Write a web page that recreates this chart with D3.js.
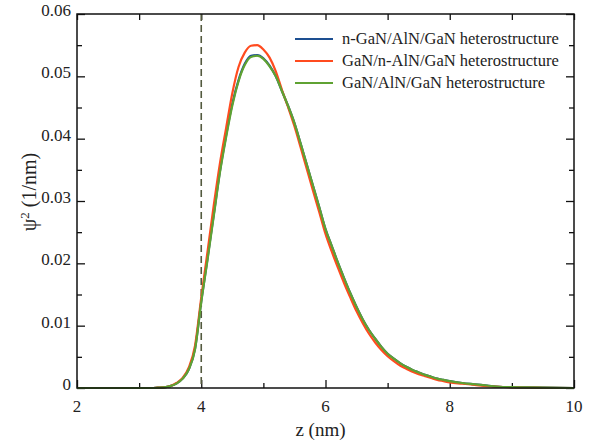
<!DOCTYPE html>
<html>
<head>
<meta charset="utf-8">
<script src="https://cdn.jsdelivr.net/npm/d3@7"></script>
<style>
  html, body { margin: 0; padding: 0; background: #fff; }
  svg { display: block; }
</style>
</head>
<body>
<svg id="chart" width="595" height="441"></svg>
<script>
// Position z (nm)
const zValues = [2.0, 2.5, 3.0, 3.2, 3.3, 3.4, 3.5, 3.6, 3.7, 3.8, 3.9, 4.0, 4.1, 4.2, 4.3, 4.4,
  4.5, 4.6, 4.7, 4.8, 4.9, 5.0, 5.1, 5.2, 5.3, 5.4, 5.5, 5.6, 5.7, 5.8, 5.9, 6.0,
  6.1, 6.2, 6.3, 6.4, 6.5, 6.6, 6.7, 6.8, 6.9, 7.0, 7.1, 7.2, 7.3, 7.4, 7.5, 7.6,
  7.7, 7.8, 7.9, 8.0, 8.2, 8.4, 8.6, 8.8, 9.0, 9.2, 9.5, 10.0];

// |psi|^2 (1/nm) for each structure
const psiNGaN = [0, 0, 0, 0, 0.00005, 0.0001, 0.0003, 0.0007, 0.0015, 0.0030, 0.0063, 0.0139, 0.0207, 0.0277, 0.0347, 0.0405,
  0.0456, 0.0494, 0.0520, 0.0533, 0.0534, 0.0529, 0.0517, 0.0500, 0.0476, 0.0452, 0.0425, 0.0392, 0.0358, 0.0324, 0.0290, 0.0255,
  0.0228, 0.0201, 0.0176, 0.0152, 0.0130, 0.0110, 0.0093, 0.0079, 0.0066, 0.0055, 0.0047, 0.0040, 0.0034, 0.0029, 0.0025, 0.0021,
  0.0018, 0.0015, 0.0013, 0.0011, 0.0008, 0.0006, 0.0004, 0.0002, 0.00015, 0.0001, 0.00005, 0];

const psiNAlN = [0, 0, 0, 0, 0.00005, 0.0001, 0.0003, 0.0008, 0.0016, 0.0033, 0.0068, 0.0145, 0.0218, 0.0292, 0.0360, 0.0417,
  0.0473, 0.0515, 0.0538, 0.0549, 0.0550, 0.0543, 0.0530, 0.0508, 0.0478, 0.0450, 0.0420, 0.0386, 0.0351, 0.0316, 0.0282, 0.0247,
  0.0219, 0.0193, 0.0168, 0.0145, 0.0123, 0.0104, 0.0087, 0.0073, 0.0061, 0.0051, 0.0043, 0.0036, 0.0031, 0.0026, 0.0022, 0.0019,
  0.0016, 0.0013, 0.0011, 0.0009, 0.0007, 0.0005, 0.0003, 0.0002, 0.0001, 0.00008, 0.00003, 0];

const psiUndoped = [0, 0, 0, 0, 0.00005, 0.0001, 0.0003, 0.0007, 0.0015, 0.0030, 0.0062, 0.0138, 0.0205, 0.0275, 0.0345, 0.0402,
  0.0453, 0.0492, 0.0518, 0.0531, 0.0533, 0.0528, 0.0516, 0.0500, 0.0476, 0.0452, 0.0425, 0.0392, 0.0358, 0.0324, 0.0290, 0.0255,
  0.0228, 0.0201, 0.0176, 0.0152, 0.0130, 0.0110, 0.0093, 0.0079, 0.0066, 0.0055, 0.0047, 0.0040, 0.0034, 0.0029, 0.0025, 0.0021,
  0.0018, 0.0015, 0.0013, 0.0011, 0.0008, 0.0006, 0.0004, 0.0002, 0.00015, 0.0001, 0.00005, 0];

const seriesNames = ["n-GaN/AlN/GaN heterostructure", "GaN/n-AlN/GaN heterostructure", "GaN/AlN/GaN heterostructure"];
const seriesColors = ["#1d4f91", "#ff4b1f", "#5fa232"];

const xTicks = [2, 4, 6, 8, 10];
const xMinorTicks = [3, 5, 7, 9];
const yTicks = [0, 0.01, 0.02, 0.03, 0.04, 0.05, 0.06];
const yTickLabels = ["0", "0.01", "0.02", "0.03", "0.04", "0.05", "0.06"];
const yMinorTicks = [0.005, 0.015, 0.025, 0.035, 0.045, 0.055];
const interfaceZ = 4;

const FONT = "'Liberation Serif', 'DejaVu Serif', serif";
const INK = "#222";

const svg = d3.select("#chart");
const plotL = 77, plotR = 574, plotT = 14, plotB = 388;

const x = d3.scaleLinear().domain([2, 10]).range([plotL, plotR]);
const y = d3.scaleLinear().domain([0, 0.06]).range([plotB, plotT]);

const majorLen = 8, minorLen = 5;

// Tick marks on all four sides, pointing inward
function tickAxis(gen, transform, ticks, len) {
  svg.append("g")
    .attr("transform", transform)
    .call(gen.tickValues(ticks).tickSize(len).tickFormat(""))
    .call(g => g.select(".domain").remove())
    .call(g => g.selectAll("line").attr("stroke", "#111").attr("stroke-width", 1.3));
}
tickAxis(d3.axisTop(x), `translate(0,${plotB})`, xTicks, majorLen);
tickAxis(d3.axisTop(x), `translate(0,${plotB})`, xMinorTicks, minorLen);
tickAxis(d3.axisBottom(x), `translate(0,${plotT})`, xTicks.concat(xMinorTicks), 6);
tickAxis(d3.axisRight(y), `translate(${plotL},0)`, yTicks, majorLen);
tickAxis(d3.axisRight(y), `translate(${plotL},0)`, yMinorTicks, minorLen);
tickAxis(d3.axisLeft(y), `translate(${plotR},0)`, yTicks, majorLen);
tickAxis(d3.axisLeft(y), `translate(${plotR},0)`, yMinorTicks, minorLen);

// Tick labels
svg.append("g").selectAll("text").data(xTicks).join("text")
  .attr("x", d => x(d)).attr("y", plotB + 24)
  .attr("text-anchor", "middle")
  .attr("font-family", FONT).attr("font-size", 17).attr("fill", INK)
  .text(d => d);
svg.append("g").selectAll("text").data(yTicks).join("text")
  .attr("x", plotL - 6).attr("y", d => y(d) + 2)
  .attr("text-anchor", "end")
  .attr("font-family", FONT).attr("font-size", 17).attr("fill", INK)
  .text((d, i) => yTickLabels[i]);

// Axis titles
svg.append("text").attr("x", (plotL + plotR) / 2 - 5).attr("y", 436)
  .attr("text-anchor", "middle")
  .attr("font-family", FONT).attr("font-size", 19).attr("fill", INK)
  .text("z (nm)");
const yTitle = svg.append("text")
  .attr("transform", `translate(36,192) rotate(-90)`)
  .attr("text-anchor", "middle")
  .attr("font-family", FONT).attr("font-size", 20).attr("fill", INK);
yTitle.append("tspan").text("ψ");
yTitle.append("tspan").attr("dy", -7).attr("font-size", 13).text("2");
yTitle.append("tspan").attr("dy", 7).text(" (1/nm)");

// Interface marker
svg.append("line")
  .attr("x1", x(interfaceZ)).attr("x2", x(interfaceZ))
  .attr("y1", plotT).attr("y2", plotB)
  .attr("stroke", "#535a3e").attr("stroke-width", 1.6)
  .attr("stroke-dasharray", "7,4");

// Curves
const line = d3.line()
  .x((d, i) => x(zValues[i]))
  .y(d => y(d))
  .curve(d3.curveMonotoneX);

const allSeries = [psiNGaN, psiNAlN, psiUndoped];
allSeries.forEach((vals, k) => {
  svg.append("path")
    .datum(vals)
    .attr("fill", "none")
    .attr("stroke", seriesColors[k])
    .attr("stroke-width", 2.2)
    .attr("stroke-linejoin", "round")
    .attr("d", line);
});

// Frame
svg.append("rect")
  .attr("x", plotL).attr("y", plotT)
  .attr("width", plotR - plotL).attr("height", plotB - plotT)
  .attr("fill", "none").attr("stroke", "#111").attr("stroke-width", 1.5);

// Legend
const legend = svg.append("g");
const legendY = [39, 61, 83];
seriesNames.forEach((name, k) => {
  legend.append("line")
    .attr("x1", 295).attr("x2", 333)
    .attr("y1", legendY[k]).attr("y2", legendY[k])
    .attr("stroke", seriesColors[k]).attr("stroke-width", 2.2);
  legend.append("text")
    .attr("x", 342).attr("y", legendY[k] + 5)
    .attr("font-family", FONT).attr("font-size", 16.5).attr("fill", INK)
    .text(name);
});
</script>
</body>
</html>
